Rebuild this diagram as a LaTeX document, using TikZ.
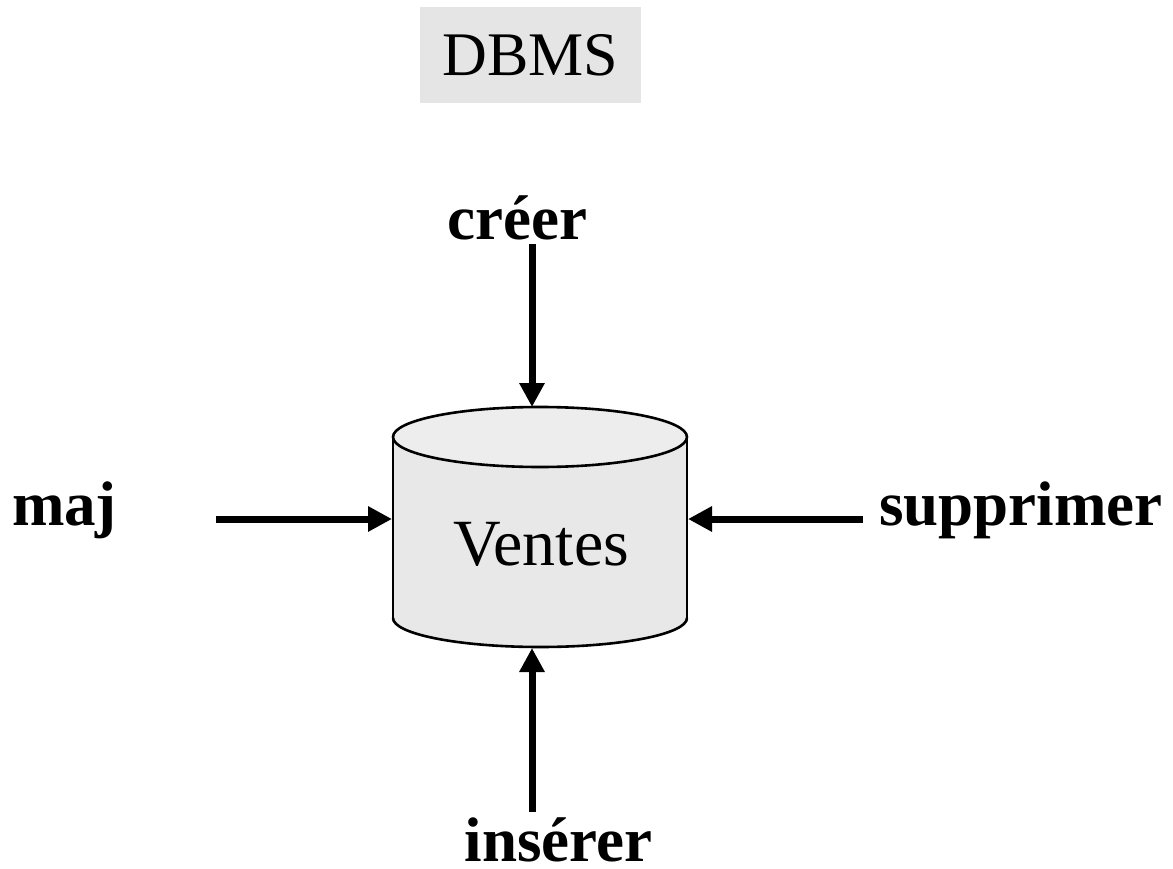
\documentclass[tikz,border=0pt]{standalone}
\usepackage{fontspec}
\setmainfont{Liberation Serif}
\usetikzlibrary{arrows.meta}
\tikzset{
  lbl/.style={inner sep=0pt, anchor=base, font=\fontsize{63}{70}\selectfont\bfseries},
  arr/.style={line width=7pt, -{Triangle[length=24pt,width=24pt]}},
  cylline/.style={line width=2.6pt, black}
}
\begin{document}
\begin{tikzpicture}[x=1pt,y=-1pt]
\useasboundingbox (0,0) rectangle (1173,869);
% DBMS box
\node[fill=black!10, minimum width=221pt, minimum height=96pt, inner sep=0pt,
      font=\fontsize{62}{70}\selectfont] (dbms) at (530.5,55) {DBMS};
% cylinder
\fill[black!9] (393,437) rectangle (687,618);
\fill[black!9] (540,618) ellipse [x radius=147pt, y radius=29pt];
\draw[cylline] (393,437) -- (393,618);
\draw[cylline] (687,437) -- (687,618);
\draw[cylline] (393,618) arc[start angle=180, end angle=360, x radius=147pt, y radius=29pt];
\draw[cylline, fill=black!7] (540,437) ellipse [x radius=147pt, y radius=30pt];
\node[inner sep=0pt, anchor=base, font=\fontsize{66}{74}\selectfont] (ventes) at (541,565) {Ventes};
\coordinate (top) at (532,407);
\coordinate (bot) at (532,648);
\coordinate (lft) at (392,519);
\coordinate (rgt) at (688,519);
% labels
\node[lbl] (creer) at (517.5,240) {créer};
\node[lbl] (maj) at (64.5,525) {maj};
\node[lbl] (supp) at (1021,525) {supprimer};
\node[lbl] (inserer) at (558.5,861) {insérer};
\coordinate (majstart) at (216,519);
\coordinate (suppstart) at (863,519);
\coordinate (insstart) at (532,812);
% arrows
\draw[arr] ([yshift=-3pt]creer.south -| top) -- (top);
\draw[arr] (majstart) -- (lft);
\draw[arr] (suppstart) -- (rgt);
\draw[arr] (insstart) -- (bot);
\end{tikzpicture}
\end{document}
